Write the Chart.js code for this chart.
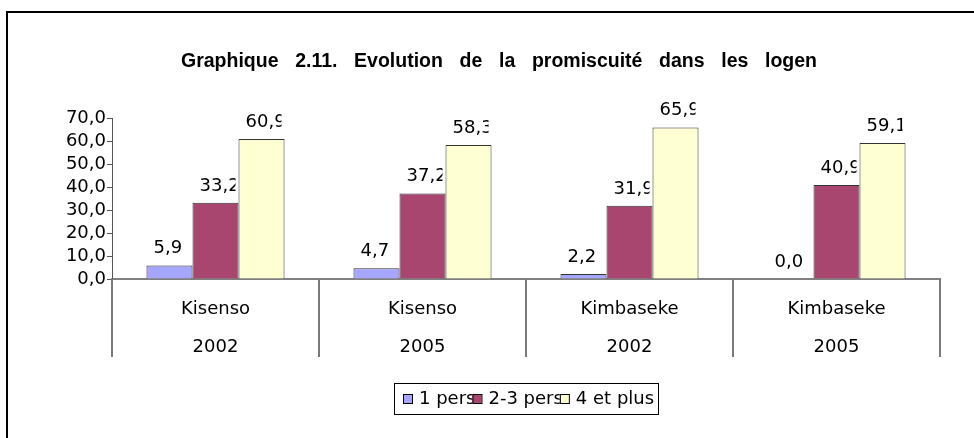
<!DOCTYPE html>
<html lang="fr">
<head>
<meta charset="UTF-8">
<title>Graphique 2.11</title>
<script src="https://cdn.jsdelivr.net/npm/chart.js"></script>
<style>
    body { margin: 0; background: #fff; }
    #wrap { position: relative; width: 974px; height: 438px; overflow: hidden; background: #fff; }
    #frame { position: absolute; left: 6px; top: 11px; width: 1100px; height: 600px; border: 2px solid #000; box-sizing: border-box; }
    #chart { position: absolute; left: 0; top: 0; }
</style>
</head>
<body>
<div id="wrap">
    <div id="frame"></div>
    <canvas id="chart" width="974" height="438"></canvas>
</div>

<script>
// data
const categories = [["Kisenso", "2002"], ["Kisenso", "2005"], ["Kimbaseke", "2002"], ["Kimbaseke", "2005"]];
const seriesNames = ["1 pers", "2-3 pers", "4 et plus"];
const onePers = [5.9, 4.7, 2.2, 0.0];
const twoThreePers = [33.2, 37.2, 31.9, 40.9];
const fourPlus = [60.9, 58.3, 65.9, 59.1];
const yMin = 0, yMax = 70, yStep = 10;
const titleText = "Graphique 2.11. Evolution de la promiscuité dans les logen";

const colors = ["#a6a6ff", "#a8466f", "#ffffd4"];
const FONT = '18px "DejaVu Sans"';

function fmt(v) {
    return v.toFixed(1).replace(".", ",");
}

// title, truncated like in the source
const titlePlugin = {
    id: "titlePlugin",
    afterDraw(chart) {
        const ctx = chart.ctx;
        ctx.save();
        ctx.font = 'bold 19.5px "Liberation Sans"';
        const words = titleText.split(" ");
        const plain = ctx.measureText(titleText).width;
        const extra = (636 - plain) / (words.length - 1);
        ctx.wordSpacing = extra + "px";
        ctx.fillStyle = "#000";
        ctx.textAlign = "left";
        ctx.textBaseline = "alphabetic";
        ctx.fillText(titleText, 181, 67);
        ctx.restore();
    }
};

// vertical separators under the category axis
const separators = {
    id: "separators",
    afterDraw(chart) {
        const ctx = chart.ctx, x = chart.scales.x, area = chart.chartArea;
        const n = x.ticks.length;
        const pos = [area.left];
        for (let i = 0; i < n - 1; i++) {
            pos.push((x.getPixelForTick(i) + x.getPixelForTick(i + 1)) / 2);
        }
        pos.push(area.right);
        ctx.save();
        ctx.strokeStyle = "#7a7a7a";
        ctx.lineWidth = 2;
        pos.forEach(p => {
            ctx.beginPath();
            ctx.moveTo(Math.round(p), area.bottom);
            ctx.lineTo(Math.round(p), area.bottom + 78);
            ctx.stroke();
        });
        ctx.restore();
    }
};

// value labels, clipped like the original text boxes
const valueLabels = {
    id: "valueLabels",
    afterDatasetsDraw(chart) {
        const ctx = chart.ctx;
        ctx.save();
        ctx.font = FONT;
        ctx.fillStyle = "#000";
        ctx.textAlign = "left";
        ctx.textBaseline = "alphabetic";
        chart.data.datasets.forEach((ds, i) => {
            chart.getDatasetMeta(i).data.forEach((bar, j) => {
                const left = bar.x - 16;
                ctx.save();
                ctx.beginPath();
                ctx.rect(left - 2, bar.y - 40, 38, 40);
                ctx.clip();
                ctx.fillText(fmt(ds.data[j]), left, bar.y - 12);
                ctx.restore();
            });
        });
        ctx.restore();
    }
};

// boxed legend, entries overlap like in the source
const legendBox = {
    id: "legendBox",
    afterDraw(chart) {
        const ctx = chart.ctx, area = chart.chartArea;
        ctx.save();
        ctx.font = FONT;
        const sq = 9, gap = 7, overlap = 3;
        const ds = chart.data.datasets;
        const widths = ds.map(d => ctx.measureText(d.label).width);
        let total = 0;
        widths.forEach((w, i) => { total += sq + gap + w - (i < widths.length - 1 ? overlap : 0); });
        const boxW = Math.round(total + 9 + 4);
        const boxL = Math.round((area.left + area.right) / 2 - boxW / 2);
        const top = 383, h = 31;
        ctx.fillStyle = "#fff";
        ctx.fillRect(boxL, top, boxW, h);
        ctx.strokeStyle = "#000";
        ctx.lineWidth = 1;
        ctx.strokeRect(boxL + 0.5, top + 0.5, boxW, h);

        let x = boxL + 9;
        const mid = top + 16;
        ds.forEach((d, i) => {
            ctx.fillStyle = d.backgroundColor;
            ctx.fillRect(x, mid - 5, sq, sq + 1);
            ctx.strokeStyle = "#000";
            ctx.strokeRect(x + 0.5, mid - 4.5, sq, sq);
            const tx = x + sq + gap;
            const next = tx + widths[i] - overlap;
            ctx.save();
            if (i < ds.length - 1) {
                ctx.beginPath();
                ctx.rect(tx, top, next - tx, h);
                ctx.clip();
            }
            ctx.fillStyle = "#000";
            ctx.textBaseline = "middle";
            ctx.fillText(d.label, tx, mid);
            ctx.restore();
            x = next;
        });
        ctx.restore();
    }
};

new Chart(document.getElementById("chart"), {
    type: "bar",
    data: {
        labels: categories,
        datasets: [
            { label: seriesNames[0], data: onePers, backgroundColor: colors[0] },
            { label: seriesNames[1], data: twoThreePers, backgroundColor: colors[1] },
            { label: seriesNames[2], data: fourPlus, backgroundColor: colors[2] }
        ]
    },
    options: {
        responsive: false,
        devicePixelRatio: 1,
        animation: false,
        layout: { padding: { top: 118, right: 34, left: 0, bottom: 0 } },
        datasets: {
            bar: {
                categoryPercentage: 0.667,
                barPercentage: 1,
                borderColor: "#333",
                borderWidth: 1,
                borderSkipped: "bottom"
            }
        },
        plugins: {
            legend: { display: false },
            title: { display: false },
            tooltip: { enabled: false }
        },
        scales: {
            x: {
                grid: { drawOnChartArea: false, drawTicks: false },
                border: { color: "#808080", width: 2 },
                ticks: {
                    color: "#000",
                    font: { family: "DejaVu Sans", size: 18, lineHeight: 38 / 18 },
                    padding: 11,
                    maxRotation: 0
                },
                afterFit(s) { s.height = 159; }
            },
            y: {
                min: yMin,
                max: yMax,
                grid: { drawOnChartArea: false, drawTicks: true, tickLength: 5, color: "#555" },
                border: { color: "#555", width: 1 },
                ticks: {
                    stepSize: yStep,
                    autoSkip: false,
                    color: "#000",
                    font: { family: "DejaVu Sans", size: 18 },
                    padding: 1,
                    callback: v => fmt(v)
                },
                afterFit(s) { s.width = 112; }
            }
        }
    },
    plugins: [separators, valueLabels, titlePlugin, legendBox]
});
</script>
</body>
</html>
